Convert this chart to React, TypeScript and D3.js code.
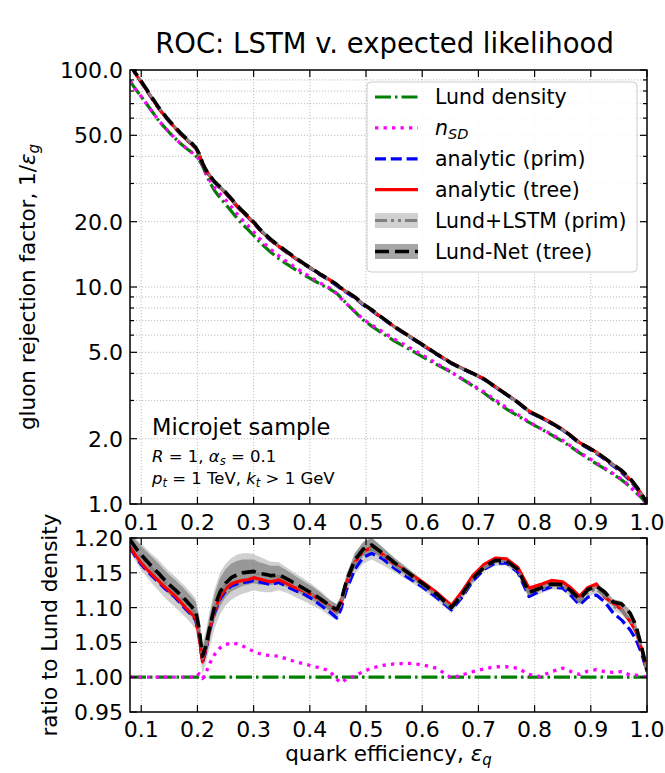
import React from 'react';
import * as d3 from 'd3';

// ---------- data ----------
const EFF = [
  0.08, 0.09, 0.10, 0.11, 0.12, 0.13, 0.14, 0.15, 0.16, 0.17,
  0.18, 0.19, 0.197, 0.203, 0.209, 0.215, 0.222, 0.23, 0.24, 0.25,
  0.26, 0.27, 0.28, 0.29, 0.30, 0.31, 0.32, 0.33, 0.345, 0.36,
  0.375, 0.39, 0.405, 0.42, 0.435, 0.448, 0.455, 0.465, 0.48, 0.495,
  0.51, 0.53, 0.55, 0.575, 0.60, 0.625, 0.652, 0.67, 0.69, 0.71,
  0.73, 0.75, 0.77, 0.79, 0.81, 0.83, 0.85, 0.865, 0.88, 0.895,
  0.91, 0.925, 0.94, 0.955, 0.97, 0.98, 0.99, 1.0,
];

// Lund density: gluon rejection 1/eps_g
const LUND = [
  89, 81.5, 75.5, 69.5, 64, 59, 55, 51.5, 48.5, 45.8,
  43.6, 41.7, 40.2, 38.5, 36.2, 33.2, 30.4, 27.9, 25.8, 24.1,
  22.4, 20.8, 19.5, 18.4, 17.3, 16.2, 15.3, 14.5, 13.5, 12.7,
  12.0, 11.35, 10.8, 10.25, 9.8, 9.35, 8.95, 8.4, 7.7, 7.05,
  6.6, 6.1, 5.65, 5.2, 4.78, 4.4, 4.05, 3.78, 3.5, 3.25,
  2.97, 2.74, 2.55, 2.38, 2.23, 2.08, 1.94, 1.83, 1.72, 1.62,
  1.53, 1.45, 1.37, 1.29, 1.2, 1.13, 1.07, 1.0,
];

// ratios to Lund density
const R_NSD = [
  1, 1, 1, 1, 1, 1, 1, 1, 1, 1,
  1, 1, 1, 1.005, 0.998, 1.006, 1.02, 1.032, 1.042, 1.047,
  1.049, 1.048, 1.045, 1.041, 1.037, 1.034, 1.032, 1.031, 1.03, 1.026,
  1.022, 1.019, 1.016, 1.013, 1.009, 0.997, 0.992, 0.997, 1.002, 1.008,
  1.013, 1.017, 1.019, 1.02, 1.018, 1.013, 0.999, 1.003, 1.008, 1.012,
  1.015, 1.015, 1.013, 1.004, 1.001, 1.008, 1.013, 1.008, 1.004, 1.009,
  1.011, 1.008, 1.007, 1.008, 1.003, 1.003, 1.002, 1.0,
];

const R_PRIM = [
  1.186, 1.173, 1.162, 1.153, 1.145, 1.137, 1.129, 1.122, 1.115, 1.106,
  1.097, 1.089, 1.082, 1.058, 1.021, 1.038, 1.068, 1.092, 1.112, 1.124,
  1.131, 1.134, 1.136, 1.137, 1.139, 1.137, 1.135, 1.133, 1.136, 1.13,
  1.124, 1.119, 1.112, 1.103, 1.094, 1.085, 1.097, 1.125, 1.155, 1.172,
  1.178, 1.17, 1.157, 1.143, 1.13, 1.115, 1.097, 1.114, 1.138, 1.155,
  1.164, 1.164, 1.151, 1.116, 1.124, 1.13, 1.128, 1.117, 1.104, 1.115,
  1.118, 1.108, 1.092, 1.082, 1.068, 1.055, 1.035, 1.008,
];

const R_TREE = [
  1.188, 1.175, 1.164, 1.155, 1.147, 1.139, 1.131, 1.124, 1.117, 1.108,
  1.099, 1.091, 1.084, 1.06, 1.022, 1.04, 1.07, 1.095, 1.115, 1.127,
  1.134, 1.137, 1.139, 1.14, 1.143, 1.141, 1.139, 1.137, 1.14, 1.134,
  1.128, 1.124, 1.118, 1.11, 1.102, 1.094, 1.105, 1.135, 1.165, 1.181,
  1.186, 1.176, 1.163, 1.15, 1.137, 1.122, 1.103, 1.122, 1.146, 1.162,
  1.171, 1.17, 1.158, 1.128, 1.133, 1.139, 1.137, 1.128, 1.116, 1.129,
  1.134, 1.115, 1.106, 1.097, 1.08, 1.066, 1.042, 1.01,
];

const R_LSTM = [
  1.195, 1.183, 1.173, 1.164, 1.155, 1.147, 1.138, 1.13, 1.123, 1.115,
  1.107, 1.098, 1.091, 1.066, 1.027, 1.043, 1.07, 1.097, 1.12, 1.133,
  1.141, 1.146, 1.149, 1.15, 1.151, 1.148, 1.146, 1.144, 1.145, 1.139,
  1.132, 1.125, 1.118, 1.11, 1.1, 1.093, 1.104, 1.133, 1.163, 1.179,
  1.185, 1.174, 1.161, 1.147, 1.133, 1.118, 1.099, 1.116, 1.14, 1.157,
  1.166, 1.166, 1.153, 1.12, 1.126, 1.132, 1.131, 1.121, 1.109, 1.122,
  1.127, 1.117, 1.102, 1.096, 1.082, 1.068, 1.042, 1.008,
];

const R_LUNDNET = [
  1.198, 1.186, 1.176, 1.167, 1.158, 1.15, 1.141, 1.133, 1.126, 1.118,
  1.11, 1.101, 1.094, 1.07, 1.03, 1.045, 1.072, 1.10, 1.122, 1.135,
  1.143, 1.147, 1.15, 1.151, 1.152, 1.149, 1.148, 1.146, 1.147, 1.141,
  1.134, 1.127, 1.12, 1.112, 1.103, 1.097, 1.108, 1.138, 1.168, 1.184,
  1.19, 1.178, 1.165, 1.15, 1.135, 1.12, 1.1, 1.118, 1.142, 1.158,
  1.168, 1.167, 1.155, 1.122, 1.128, 1.134, 1.133, 1.124, 1.112, 1.126,
  1.131, 1.122, 1.108, 1.105, 1.092, 1.075, 1.045, 1.01,
];

// uncertainty half-widths (ratio units)
const BAND_LSTM = [
  0.012, 0.016, 0.019, 0.02, 0.021, 0.022, 0.022, 0.022, 0.022, 0.022,
  0.022, 0.022, 0.022, 0.024, 0.022, 0.024, 0.026, 0.028, 0.03, 0.03,
  0.03, 0.03, 0.029, 0.028, 0.026, 0.025, 0.024, 0.022, 0.02, 0.018,
  0.017, 0.016, 0.015, 0.013, 0.012, 0.011, 0.012, 0.013, 0.015, 0.016,
  0.016, 0.013, 0.01, 0.008, 0.007, 0.007, 0.007, 0.006, 0.006, 0.006,
  0.006, 0.006, 0.006, 0.006, 0.006, 0.006, 0.006, 0.006, 0.006, 0.006,
  0.006, 0.006, 0.006, 0.006, 0.006, 0.005, 0.005, 0.004,
];

const BAND_LUNDNET = [
  0.008, 0.011, 0.012, 0.013, 0.014, 0.014, 0.014, 0.014, 0.014, 0.014,
  0.014, 0.014, 0.014, 0.015, 0.013, 0.015, 0.017, 0.018, 0.02, 0.02,
  0.02, 0.02, 0.019, 0.018, 0.017, 0.016, 0.015, 0.014, 0.013, 0.012,
  0.011, 0.01, 0.01, 0.009, 0.008, 0.008, 0.008, 0.009, 0.01, 0.01,
  0.01, 0.008, 0.007, 0.006, 0.005, 0.005, 0.005, 0.004, 0.004, 0.004,
  0.004, 0.004, 0.004, 0.004, 0.004, 0.004, 0.004, 0.004, 0.004, 0.004,
  0.004, 0.004, 0.004, 0.004, 0.004, 0.004, 0.004, 0.003,
];

const X_TICKS = [0.1, 0.2, 0.3, 0.4, 0.5, 0.6, 0.7, 0.8, 0.9, 1.0];
const Y_TOP_MAJOR = [1, 2, 5, 10, 20, 50, 100];
const Y_TOP_MINOR = [3, 4, 6, 7, 8, 9, 30, 40, 60, 70, 80, 90];
const Y_BOT_TICKS = [0.95, 1.0, 1.05, 1.1, 1.15, 1.2];

// ---------- layout ----------
const W = 665, H = 773;
const L = 130, R = 647;
const T1 = 70, B1 = 504;
const T2 = 538, B2 = 712;
const FONT = "'DejaVu Sans', 'Liberation Sans', sans-serif";

type Style = { color: string; width: number; dash?: string };
const STY: Record<string, Style> = {
  lund: { color: '#008000', width: 3.2, dash: '16,4,2.5,4' },
  nsd: { color: '#ff00ff', width: 3.3, dash: '3.3,5.2' },
  prim: { color: '#0000ff', width: 3.2, dash: '11,4.8' },
  tree: { color: '#ff0000', width: 3.2 },
  lstm: { color: '#808080', width: 3, dash: '12,4,3,4,3,4' },
  lundnet: { color: '#000000', width: 3.6, dash: '14,6' },
};
const BAND_LIGHT = { fill: '#c0c0c0', opacity: 0.75 };
const BAND_DARK = { fill: '#808080', opacity: 0.7 };

export default function App() {
  const x = d3.scaleLinear().domain([0.08, 1.0]).range([L, R]);
  const yTop = d3.scaleLog().domain([1, 100]).range([B1, T1]);
  const yBot = d3.scaleLinear().domain([0.95, 1.2]).range([B2, T2]);

  const ratioLund = LUND.map((v) => v / v);
  const ratios: [string, number[]][] = [
    ['lund', ratioLund],
    ['nsd', R_NSD],
    ['prim', R_PRIM],
    ['tree', R_TREE],
    ['lstm', R_LSTM],
    ['lundnet', R_LUNDNET],
  ];

  const lineTop = d3
    .line<[number, number]>()
    .x((d) => x(d[0]))
    .y((d) => yTop(d[1]));
  const lineBot = d3
    .line<[number, number]>()
    .x((d) => x(d[0]))
    .y((d) => yBot(d[1]));

  const areaTop = d3
    .area<[number, number, number]>()
    .x((d) => x(d[0]))
    .y0((d) => yTop(d[1]))
    .y1((d) => yTop(d[2]));
  const areaBot = d3
    .area<[number, number, number]>()
    .x((d) => x(d[0]))
    .y0((d) => yBot(d[1]))
    .y1((d) => yBot(d[2]));

  const bandData = (r: number[], hw: number[], top: boolean) =>
    EFF.map((e, i) =>
      top
        ? ([e, LUND[i] * (r[i] - hw[i]), LUND[i] * (r[i] + hw[i])] as [number, number, number])
        : ([e, r[i] - hw[i], r[i] + hw[i]] as [number, number, number])
    );

  const fmt1 = d3.format('.1f');
  const fmt2 = d3.format('.2f');

  const gridStyle = { stroke: '#b0b0b0', strokeWidth: 0.8, strokeDasharray: '1.2,1.8' };
  const tickStroke = { stroke: '#000', strokeWidth: 1.2 };

  const renderCurves = (top: boolean) => (
    <>
      <path
        d={(top ? areaTop : areaBot)(bandData(R_LSTM, BAND_LSTM, top)) || ''}
        fill={BAND_LIGHT.fill}
        fillOpacity={BAND_LIGHT.opacity}
      />
      <path
        d={(top ? areaTop : areaBot)(bandData(R_LUNDNET, BAND_LUNDNET, top)) || ''}
        fill={BAND_DARK.fill}
        fillOpacity={BAND_DARK.opacity}
      />
      {ratios.map(([k, r]) => {
        const s = STY[k];
        const pts = EFF.map((e, i) => [e, top ? LUND[i] * r[i] : r[i]] as [number, number]);
        return (
          <path
            key={k}
            d={(top ? lineTop : lineBot)(pts) || ''}
            fill="none"
            stroke={s.color}
            strokeWidth={s.width}
            strokeDasharray={s.dash}
            strokeLinejoin="round"
          />
        );
      })}
    </>
  );

  const legendItems = [
    { k: 'lund', label: <tspan>Lund density</tspan> },
    {
      k: 'nsd',
      label: (
        <>
          <tspan fontStyle="italic">n</tspan>
          <tspan fontStyle="italic" fontSize={14.5} dy={4}>SD</tspan>
        </>
      ),
    },
    { k: 'prim', label: <tspan>analytic (prim)</tspan> },
    { k: 'tree', label: <tspan>analytic (tree)</tspan> },
    { k: 'lstm', label: <tspan>Lund+LSTM (prim)</tspan> },
    { k: 'lundnet', label: <tspan>Lund-Net (tree)</tspan> },
  ];

  const LX0 = 375, LX1 = 418;

  return (
    <svg
      width={W}
      height={H}
      viewBox={`0 0 ${W} ${H}`}
      style={{ position: 'absolute', left: 0, top: 0, background: '#fff' }}
      fontFamily={FONT}
    >
      <defs>
        <clipPath id="clipTop">
          <rect x={L} y={T1} width={R - L} height={B1 - T1} />
        </clipPath>
        <clipPath id="clipBot">
          <rect x={L} y={T2} width={R - L} height={B2 - T2} />
        </clipPath>
      </defs>
      <rect x={0} y={0} width={W} height={H} fill="#fff" />

      {/* title */}
      <text x={(L + R) / 2 - 4} y={53} textAnchor="middle" fontSize={27.5} fill="#000">
        ROC: LSTM v. expected likelihood
      </text>

      {/* ---------- top panel ---------- */}
      <g>
        {X_TICKS.filter((t) => t < 1).map((t) => (
          <line key={'gx' + t} x1={x(t)} x2={x(t)} y1={T1} y2={B1} {...gridStyle} />
        ))}
        {[...Y_TOP_MAJOR, ...Y_TOP_MINOR]
          .filter((v) => v > 1 && v < 100)
          .map((v) => (
            <line key={'gy' + v} x1={L} x2={R} y1={yTop(v)} y2={yTop(v)} {...gridStyle} />
          ))}
        <g clipPath="url(#clipTop)">{renderCurves(true)}</g>

        {/* text annotation */}
        <text x={152} y={435} fontSize={22.5}>Microjet sample</text>
        <text x={152} y={462} fontSize={16.5}>
          <tspan fontStyle="italic">R</tspan>
          <tspan> = 1, </tspan>
          <tspan fontStyle="italic">α</tspan>
          <tspan fontStyle="italic" fontSize={11.5} dy={3}>s</tspan>
          <tspan dy={-3}> = 0.1</tspan>
        </text>
        <text x={152} y={484} fontSize={16.5}>
          <tspan fontStyle="italic">p</tspan>
          <tspan fontStyle="italic" fontSize={11.5} dy={3}>t</tspan>
          <tspan dy={-3}> = 1 TeV, </tspan>
          <tspan fontStyle="italic">k</tspan>
          <tspan fontStyle="italic" fontSize={11.5} dy={3}>t</tspan>
          <tspan dy={-3}> &gt; 1 GeV</tspan>
        </text>

        {/* legend */}
        <rect x={367} y={82} width={270} height={190} rx={4} fill="#fff" fillOpacity={0.85} stroke="#cccccc" strokeWidth={1} />
        {legendItems.map((it, i) => {
          const yy = 97 + i * 30.9;
          const s = STY[it.k];
          return (
            <g key={it.k}>
              {it.k === 'lstm' && (
                <rect x={LX0} y={yy - 7.5} width={LX1 - LX0} height={15} fill={BAND_LIGHT.fill} fillOpacity={BAND_LIGHT.opacity} />
              )}
              {it.k === 'lundnet' && (
                <rect x={LX0} y={yy - 7.5} width={LX1 - LX0} height={15} fill={BAND_DARK.fill} fillOpacity={BAND_DARK.opacity} />
              )}
              <line x1={LX0} x2={LX1} y1={yy} y2={yy} stroke={s.color} strokeWidth={s.width} strokeDasharray={s.dash} />
              <text x={435} y={yy + 7.3} fontSize={20.5}>
                {it.label}
              </text>
            </g>
          );
        })}

        {/* frame */}
        <rect x={L} y={T1} width={R - L} height={B1 - T1} fill="none" stroke="#000" strokeWidth={1.5} />
        {/* x ticks */}
        {X_TICKS.map((t) => (
          <g key={'tx' + t}>
            <line x1={x(t)} x2={x(t)} y1={B1} y2={B1 - 7} {...tickStroke} />
            <line x1={x(t)} x2={x(t)} y1={T1} y2={T1 + 7} {...tickStroke} />
            <text x={x(t)} y={B1 + 26} textAnchor="middle" fontSize={22}>
              {fmt1(t)}
            </text>
          </g>
        ))}
        {Y_TOP_MAJOR.map((v) => (
          <g key={'ty' + v}>
            <line x1={L} x2={L + 7} y1={yTop(v)} y2={yTop(v)} {...tickStroke} />
            <line x1={R} x2={R - 7} y1={yTop(v)} y2={yTop(v)} {...tickStroke} />
            <text x={L - 7} y={yTop(v) + 8} textAnchor="end" fontSize={22}>
              {fmt1(v)}
            </text>
          </g>
        ))}
        {Y_TOP_MINOR.map((v) => (
          <g key={'tym' + v}>
            <line x1={L} x2={L + 4} y1={yTop(v)} y2={yTop(v)} {...tickStroke} />
            <line x1={R} x2={R - 4} y1={yTop(v)} y2={yTop(v)} {...tickStroke} />
          </g>
        ))}
        <text transform={`translate(35, ${(T1 + B1) / 2}) rotate(-90)`} textAnchor="middle" fontSize={21.5}>
          <tspan>gluon rejection factor, 1/</tspan>
          <tspan fontStyle="italic">ε</tspan>
          <tspan fontStyle="italic" fontSize={15} dy={4}>g</tspan>
        </text>
      </g>

      {/* ---------- bottom panel ---------- */}
      <g>
        {X_TICKS.filter((t) => t < 1).map((t) => (
          <line key={'bgx' + t} x1={x(t)} x2={x(t)} y1={T2} y2={B2} {...gridStyle} />
        ))}
        {Y_BOT_TICKS.filter((v) => v > 0.95 && v < 1.2).map((v) => (
          <line key={'bgy' + v} x1={L} x2={R} y1={yBot(v)} y2={yBot(v)} {...gridStyle} />
        ))}
        <g clipPath="url(#clipBot)">{renderCurves(false)}</g>
        <rect x={L} y={T2} width={R - L} height={B2 - T2} fill="none" stroke="#000" strokeWidth={1.5} />
        {X_TICKS.map((t) => (
          <g key={'btx' + t}>
            <line x1={x(t)} x2={x(t)} y1={B2} y2={B2 - 7} {...tickStroke} />
            <line x1={x(t)} x2={x(t)} y1={T2} y2={T2 + 7} {...tickStroke} />
            <text x={x(t)} y={B2 + 25} textAnchor="middle" fontSize={22}>
              {fmt1(t)}
            </text>
          </g>
        ))}
        {Y_BOT_TICKS.map((v) => (
          <g key={'bty' + v}>
            <line x1={L} x2={L + 7} y1={yBot(v)} y2={yBot(v)} {...tickStroke} />
            <line x1={R} x2={R - 7} y1={yBot(v)} y2={yBot(v)} {...tickStroke} />
            <text x={L - 7} y={yBot(v) + 8} textAnchor="end" fontSize={22}>
              {fmt2(v)}
            </text>
          </g>
        ))}
        <text transform={`translate(57, ${(T2 + B2) / 2}) rotate(-90)`} textAnchor="middle" fontSize={21.5}>
          ratio to Lund density
        </text>
        <text x={(L + R) / 2} y={761} textAnchor="middle" fontSize={21.5}>
          <tspan>quark efficiency, </tspan>
          <tspan fontStyle="italic">ε</tspan>
          <tspan fontStyle="italic" fontSize={15} dy={4}>q</tspan>
        </text>
      </g>
    </svg>
  );
}
